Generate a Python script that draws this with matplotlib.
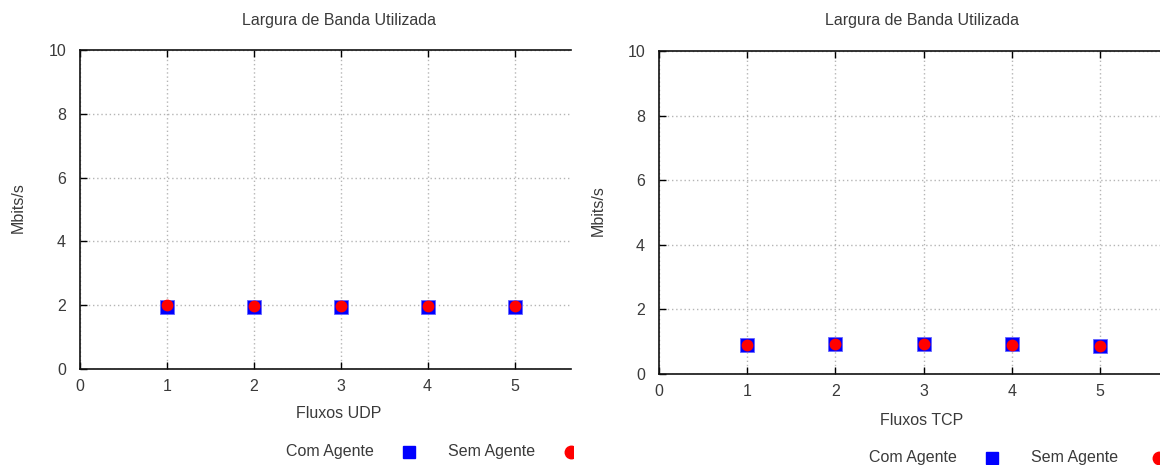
#!/usr/bin/env python3
import matplotlib.pyplot as plt
from matplotlib.lines import Line2D
from matplotlib.transforms import Bbox, TransformedBbox

plt.rcParams['font.family'] = ['Liberation Sans', 'DejaVu Sans']

fluxos = [1, 2, 3, 4, 5]

# banda utilizada (Mbits/s)
udp_com_agente = [1.93, 1.93, 1.93, 1.93, 1.93]
udp_sem_agente = [2.0, 1.98, 1.97, 1.98, 1.97]
tcp_com_agente = [0.90, 0.92, 0.92, 0.92, 0.88]
tcp_sem_agente = [0.90, 0.92, 0.92, 0.91, 0.88]

yticks = [0, 2, 4, 6, 8, 10]
xticks = [0, 1, 2, 3, 4, 5]

W, H = 1160, 465
fig = plt.figure(figsize=(W / 100, H / 100), dpi=100)

txt = '#3a3a3a'
fs = 11.5


def fx(px):
    return px / W


def fy(py):
    return 1 - py / H


def painel(box, xmax, com, sem, xlabel, centro, y_xlabel, y_leg, ylab_x, clip_x, circ_dx):
    x0, x1, ytop, ybot = box
    ax = fig.add_axes([fx(x0), fy(ybot), fx(x1 - x0), fy(ytop) - fy(ybot)])
    ax.set_xlim(0, xmax)
    ax.set_ylim(0, 10)
    ax.set_xticks(xticks)
    ax.set_yticks(yticks)
    ax.spines['right'].set_visible(False)
    for s in ('left', 'bottom', 'top'):
        ax.spines[s].set_linewidth(1.2)
        ax.spines[s].set_color('#111111')
    ax.tick_params(direction='in', length=5, width=1, top=True, right=False,
                   labelsize=fs, labelcolor=txt)
    ax.tick_params(axis='x', pad=7)
    ax.tick_params(axis='y', pad=10)
    ax.grid(True, color='#b5b5b5', linestyle=(0, (1, 2)), linewidth=1)
    ax.set_axisbelow(True)

    ax.plot(fluxos, com, 's', color='blue', markersize=10, markeredgecolor='#6666ff',
            markeredgewidth=0.6, clip_on=False, zorder=3)
    ax.plot(fluxos, sem, 'o', color='red', markersize=8.5, markeredgewidth=0,
            clip_on=False, zorder=4)

    fig.text(fx(centro), fy(20), 'Largura de Banda Utilizada', ha='center', va='center',
             fontsize=fs, color=txt)
    fig.text(fx(centro), fy(y_xlabel), xlabel, ha='center', va='center',
             fontsize=fs, color=txt)
    fig.text(fx(ylab_x), fy((ytop + ybot) / 2 - 2), 'Mbits/s', rotation=90,
             ha='center', va='center', fontsize=fs, color=txt)

    # legenda abaixo do grafico
    leg_x = centro + 35
    fig.text(fx(leg_x), fy(y_leg), 'Com Agente', ha='right', va='center',
             fontsize=fs, color=txt)
    fig.text(fx(leg_x + 161), fy(y_leg), 'Sem Agente', ha='right', va='center',
             fontsize=fs, color=txt)
    clip = TransformedBbox(Bbox([[0, 0], [fx(clip_x), 1]]), fig.transFigure)
    m1 = Line2D([fx(leg_x + 35)], [fy(y_leg + 1)], marker='s', color='blue',
                markersize=9, transform=fig.transFigure, linestyle='none')
    m2 = Line2D([fx(leg_x + 161 + circ_dx)], [fy(y_leg + 1)], marker='o', color='red',
                markersize=9, transform=fig.transFigure, linestyle='none')
    for m in (m1, m2):
        m.set_clip_box(clip)
        fig.add_artist(m)
    return ax


painel((80, 571, 50, 369), 5.65, udp_com_agente, udp_sem_agente, 'Fluxos UDP',
       339, 413, 451, 18, 573, 36)
painel((659, 1160, 51, 374), 5.68, tcp_com_agente, tcp_sem_agente, 'Fluxos TCP',
       922, 420, 457, 598, 1160, 41)

fig.savefig('out.png', dpi=100)
